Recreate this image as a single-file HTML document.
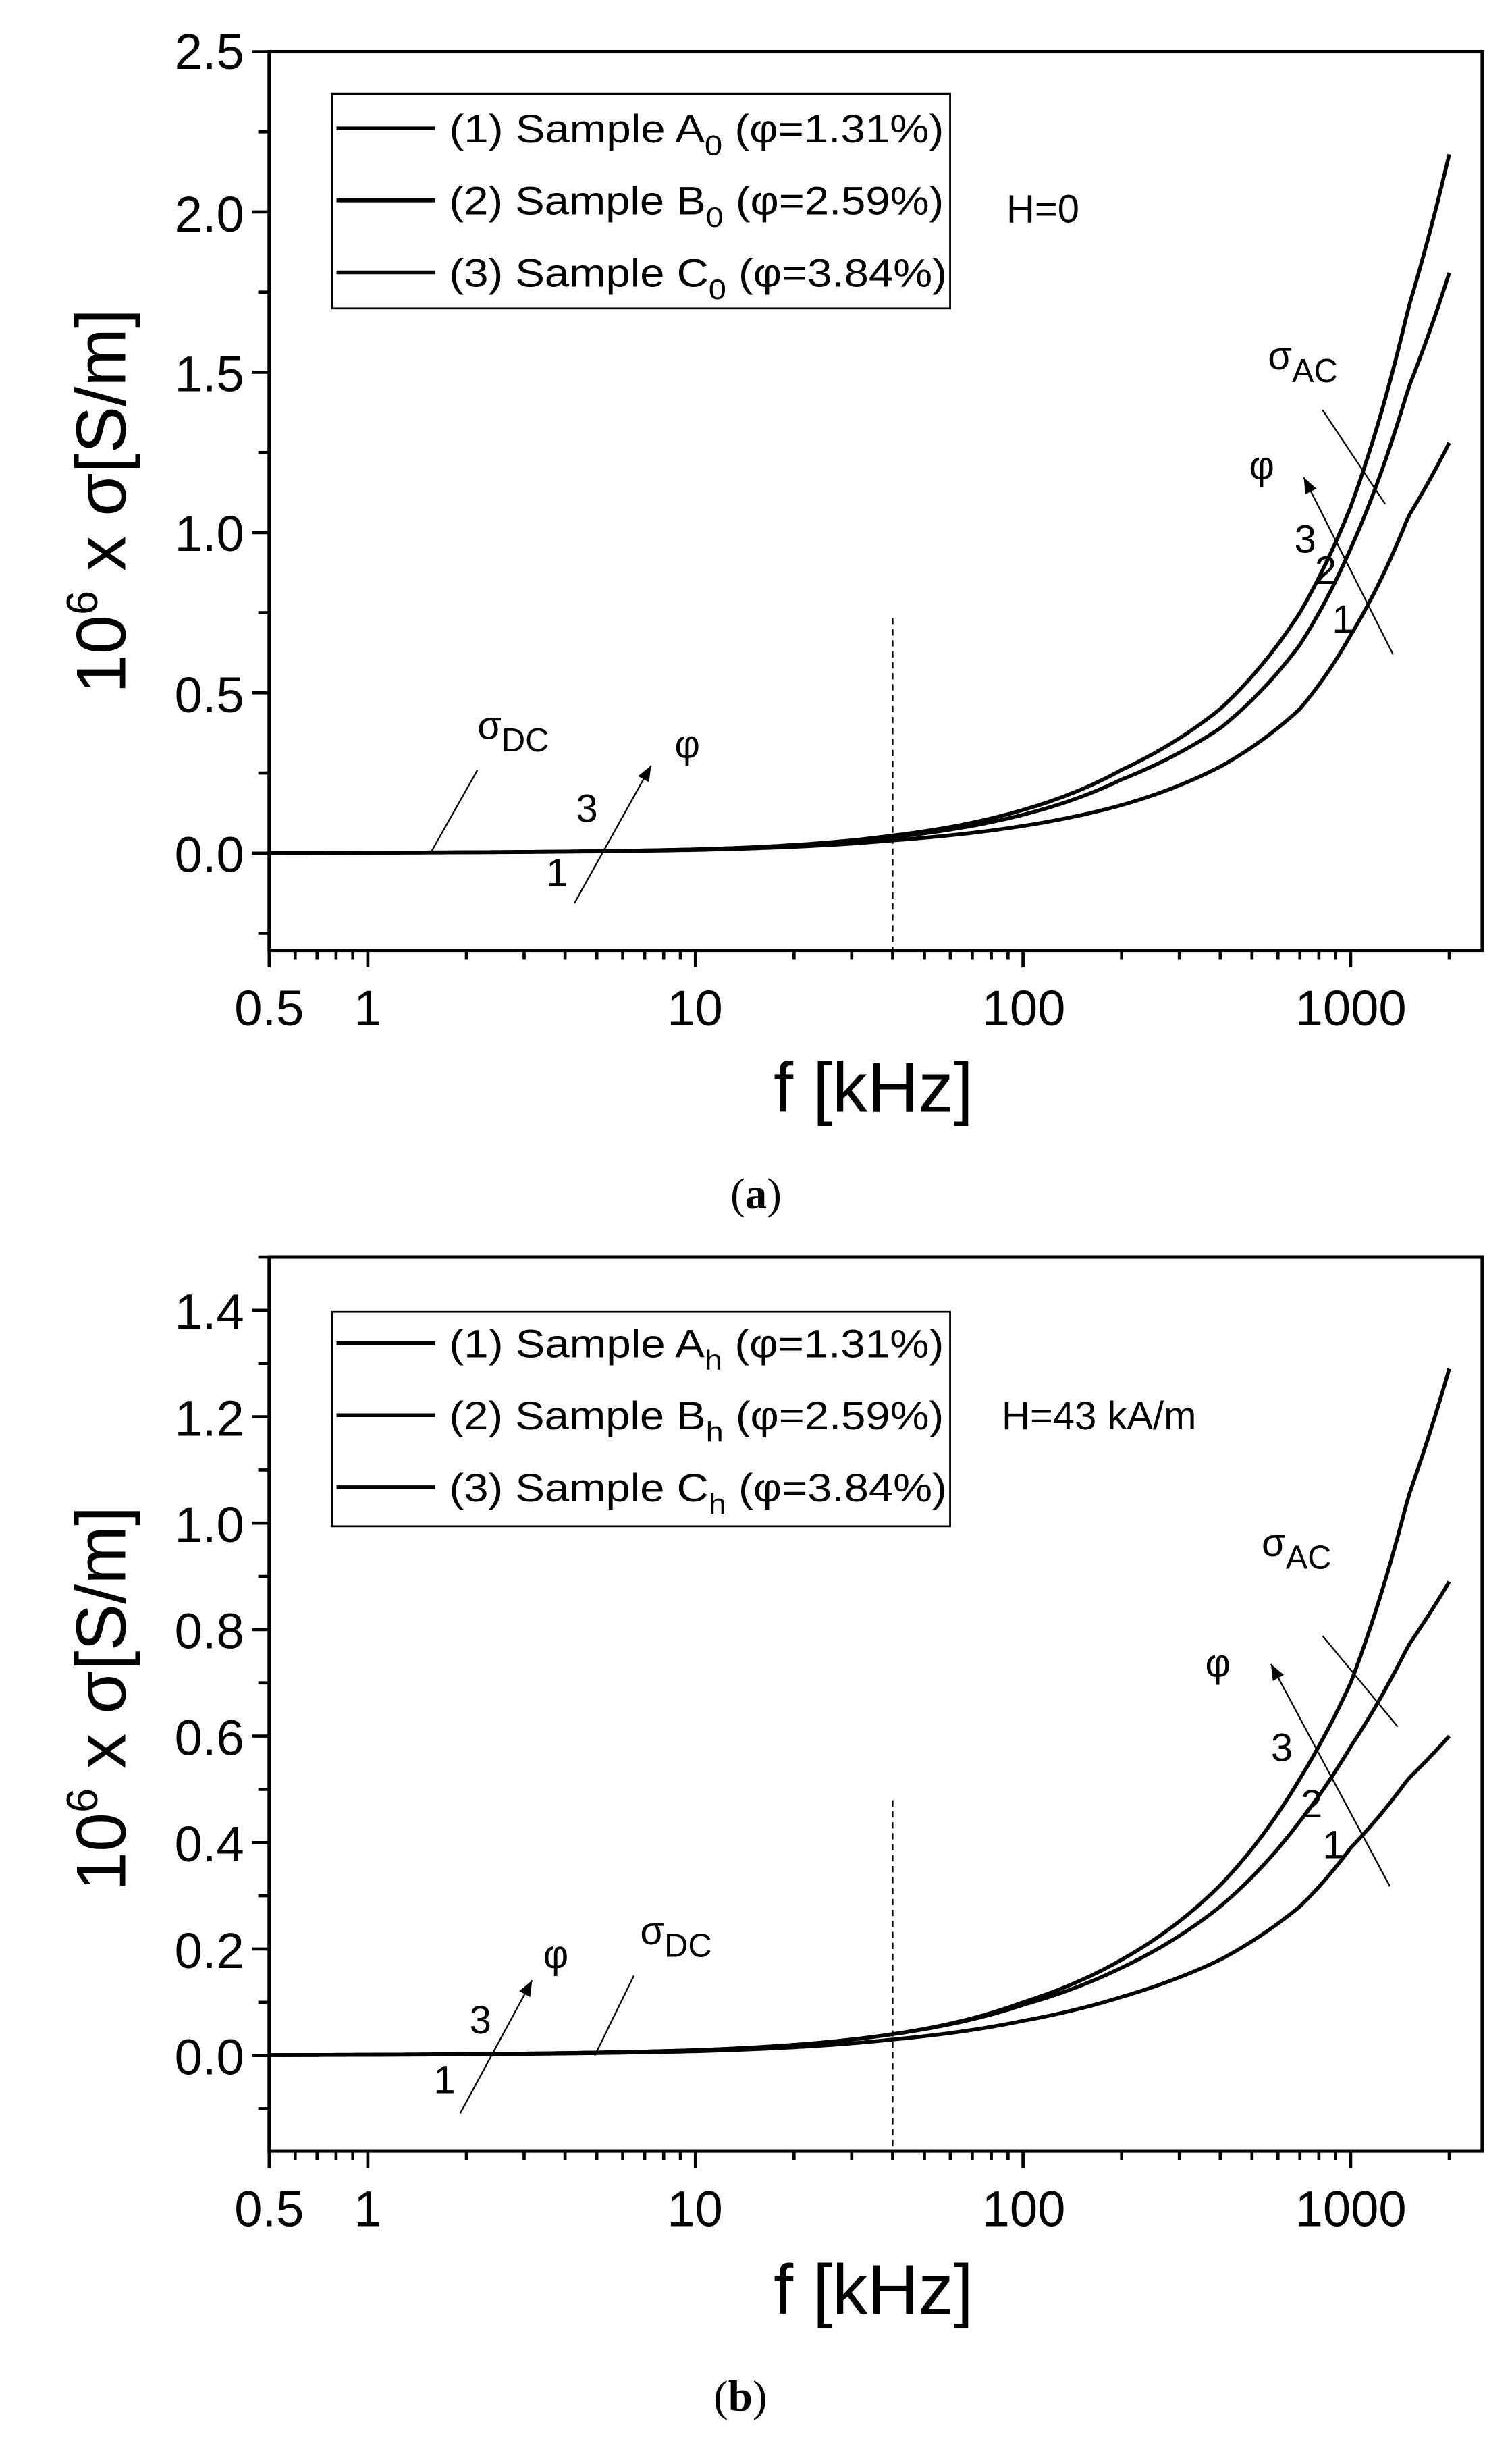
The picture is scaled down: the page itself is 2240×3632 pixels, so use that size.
<!DOCTYPE html>
<html><head><meta charset="utf-8"><style>
html,body{margin:0;padding:0;background:#fff;}
svg{display:block;}
text{font-family:"Liberation Sans",sans-serif;fill:#000;}
</style></head><body>
<svg id="s" width="2240" height="3632" viewBox="0 0 966 1566.3" preserveAspectRatio="none" xmlns="http://www.w3.org/2000/svg">
<rect x="0" y="0" width="966" height="1566.3" fill="#fff"/>
<g id="g"></g>
<!-- Panel a texts -->
<g font-size="32">
<text x="156" y="44" text-anchor="end">2.5</text>
<text x="156" y="148" text-anchor="end">2.0</text>
<text x="156" y="250" text-anchor="end">1.5</text>
<text x="156" y="352" text-anchor="end">1.0</text>
<text x="156" y="455" text-anchor="end">0.5</text>
<text x="156" y="557" text-anchor="end">0.0</text>
<text x="172" y="655" text-anchor="middle">0.5</text>
<text x="235" y="655" text-anchor="middle">1</text>
<text x="444" y="655" text-anchor="middle">10</text>
<text x="654" y="655" text-anchor="middle">100</text>
<text x="863" y="655" text-anchor="middle">1000</text>
</g>
<text x="558" y="710" font-size="45" text-anchor="middle">f [kHz]</text>
<text transform="translate(80,320) rotate(-90)" font-size="45" text-anchor="middle">10<tspan dy="-18" font-size="28">6</tspan><tspan dy="18"> x σ[S/m]</tspan></text>
<text x="483" y="772" font-size="28" text-anchor="middle" style="font-family:'Liberation Serif',serif">(<tspan font-weight="bold">a</tspan>)</text>
<rect x="212" y="60" width="395" height="137" fill="none" stroke="#000" stroke-width="1.2"/>
<g stroke="#000" stroke-width="2.4"><line x1="215" y1="82" x2="278" y2="82"/><line x1="215" y1="128" x2="278" y2="128"/><line x1="215" y1="174" x2="278" y2="174"/></g>
<g font-size="25">
<text x="287" y="91" textLength="316" lengthAdjust="spacingAndGlyphs">(1) Sample A<tspan dy="8" font-size="18">0</tspan><tspan dy="-8"> (φ=1.31%)</tspan></text>
<text x="287" y="137" textLength="316" lengthAdjust="spacingAndGlyphs">(2) Sample B<tspan dy="8" font-size="18">0</tspan><tspan dy="-8"> (φ=2.59%)</tspan></text>
<text x="287" y="183" textLength="318" lengthAdjust="spacingAndGlyphs">(3) Sample C<tspan dy="8" font-size="18">0</tspan><tspan dy="-8"> (φ=3.84%)</tspan></text>
<text x="643" y="142">H=0</text>
<text x="810" y="236">σ<tspan dy="8" font-size="21">AC</tspan></text>
<text x="798" y="306">φ</text>
<text x="827" y="353">3</text>
<text x="840" y="373">2</text>
<text x="851" y="404">1</text>
<text x="305" y="472">σ<tspan dy="8" font-size="21">DC</tspan></text>
<text x="431" y="484">φ</text>
<text x="368" y="525">3</text>
<text x="349" y="566">1</text>
</g>
<!-- Panel b texts -->
<g font-size="32">
<text x="156" y="849" text-anchor="end">1.4</text>
<text x="156" y="917" text-anchor="end">1.2</text>
<text x="156" y="985" text-anchor="end">1.0</text>
<text x="156" y="1053" text-anchor="end">0.8</text>
<text x="156" y="1121" text-anchor="end">0.6</text>
<text x="156" y="1189" text-anchor="end">0.4</text>
<text x="156" y="1257" text-anchor="end">0.2</text>
<text x="156" y="1325" text-anchor="end">0.0</text>
<text x="172" y="1422" text-anchor="middle">0.5</text>
<text x="235" y="1422" text-anchor="middle">1</text>
<text x="444" y="1422" text-anchor="middle">10</text>
<text x="654" y="1422" text-anchor="middle">100</text>
<text x="863" y="1422" text-anchor="middle">1000</text>
</g>
<text x="558" y="1478" font-size="45" text-anchor="middle">f [kHz]</text>
<text transform="translate(80,1085) rotate(-90)" font-size="45" text-anchor="middle">10<tspan dy="-18" font-size="28">6</tspan><tspan dy="18"> x σ[S/m]</tspan></text>
<text x="473" y="1540" font-size="28" text-anchor="middle" style="font-family:'Liberation Serif',serif">(<tspan font-weight="bold">b</tspan>)</text>
<rect x="212" y="838" width="395" height="137" fill="none" stroke="#000" stroke-width="1.2"/>
<g stroke="#000" stroke-width="2.4"><line x1="215" y1="858" x2="278" y2="858"/><line x1="215" y1="904" x2="278" y2="904"/><line x1="215" y1="950" x2="278" y2="950"/></g>
<g font-size="25">
<text x="287" y="867" textLength="316" lengthAdjust="spacingAndGlyphs">(1) Sample A<tspan dy="8" font-size="18">h</tspan><tspan dy="-8"> (φ=1.31%)</tspan></text>
<text x="287" y="913" textLength="316" lengthAdjust="spacingAndGlyphs">(2) Sample B<tspan dy="8" font-size="18">h</tspan><tspan dy="-8"> (φ=2.59%)</tspan></text>
<text x="287" y="959" textLength="318" lengthAdjust="spacingAndGlyphs">(3) Sample C<tspan dy="8" font-size="18">h</tspan><tspan dy="-8"> (φ=3.84%)</tspan></text>
<text x="640" y="913">H=43 kA/m</text>
<text x="806" y="994">σ<tspan dy="8" font-size="21">AC</tspan></text>
<text x="770" y="1071">φ</text>
<text x="812" y="1125">3</text>
<text x="831" y="1161">2</text>
<text x="845" y="1187">1</text>
<text x="409" y="1242">σ<tspan dy="8" font-size="21">DC</tspan></text>
<text x="347" y="1257">φ</text>
<text x="300" y="1299">3</text>
<text x="277" y="1337">1</text>
</g>
</svg>
<script>
var g=document.getElementById('g');var NS='http://www.w3.org/2000/svg';
function el(t,a){var e=document.createElementNS(NS,t);for(var k in a)e.setAttribute(k,a[k]);g.appendChild(e);return e;}
function X(f){return 235+209.3*Math.log10(f);}
function panel(y0,sc,top,bot,ymin,ymax,maj,minr,curves,dashTop){
 var L=172,R=947;
 el('rect',{x:L,y:top,width:R-L,height:bot-top,fill:'none',stroke:'#000','stroke-width':2.2});
 for(var v=ymin;v<=ymax+1e-9;v+=minr){var y=y0-v*sc;var isM=Math.abs(v/maj-Math.round(v/maj))<1e-6;
  if(y>bot+0.5||y<top-0.5)continue;
  el('line',{x1:L,y1:y,x2:L-(isM?11:7),y2:y,stroke:'#000','stroke-width':2});}
 var dec=[0.1,1,10,100,1000];
 for(var d=0;d<dec.length;d++)for(var m=1;m<10;m++){var f=dec[d]*m;if(f<0.5||f>2600)continue;var x=X(f);
  var isM=(m==1)||f==0.5;
  el('line',{x1:x,y1:bot,x2:x,y2:bot+(isM?11:6),stroke:'#000','stroke-width':2});}
 el('line',{x1:X(40),y1:dashTop,x2:X(40),y2:bot,stroke:'#000','stroke-width':1,'stroke-dasharray':'4,3'});
 curves.forEach(function(c){var pts=c;var d='';
  for(var i=0;i<=300;i++){var lf=Math.log10(0.5)+i/300*(Math.log10(2000)-Math.log10(0.5));
   var v;var k=0;while(k<pts.length-2&&Math.log10(pts[k+1][0])<lf)k++;
   var a=pts[k],b=pts[k+1];var t=(lf-Math.log10(a[0]))/(Math.log10(b[0])-Math.log10(a[0]));
   v=Math.exp(Math.log(a[1])+t*(Math.log(b[1])-Math.log(a[1])));
   d+=(i?'L':'M')+(235+209.3*lf).toFixed(2)+','+(y0-v*sc).toFixed(2);}
  el('path',{d:d,fill:'none',stroke:'#000','stroke-width':2.4});});
}
panel(545,204.8,33,607,-0.25,2.5,0.5,0.25,[
 [[0.5,0.0008],[10,0.012],[40,0.055],[100,0.135],[200,0.26],[400,0.45],[700,0.75],[1000,1.08],[1500,1.7],[2000,2.18]],
 [[0.5,0.0008],[10,0.012],[40,0.05],[100,0.12],[200,0.23],[400,0.39],[700,0.65],[1000,0.95],[1500,1.45],[2000,1.81]],
 [[0.5,0.0007],[10,0.01],[40,0.04],[100,0.085],[200,0.15],[400,0.27],[700,0.45],[1000,0.68],[1500,1.05],[2000,1.28]]
],395);
panel(1313,340,803,1374,-0.1,1.5,0.2,0.1,[
 [[0.5,0.0008],[10,0.01],[40,0.04],[100,0.1],[200,0.18],[400,0.32],[700,0.52],[1000,0.7],[1500,1.05],[2000,1.29]],
 [[0.5,0.0008],[10,0.01],[40,0.04],[100,0.095],[200,0.165],[400,0.28],[700,0.44],[1000,0.58],[1500,0.77],[2000,0.89]],
 [[0.5,0.0007],[10,0.008],[40,0.03],[100,0.065],[200,0.11],[400,0.18],[700,0.28],[1000,0.39],[1500,0.52],[2000,0.60]]
],1150);
function ln(a,b,c,d){el('line',{x1:a,y1:b,x2:c,y2:d,stroke:'#000','stroke-width':1});}
function arrow(a,b,c,d){ln(a,b,c,d);var ang=Math.atan2(d-b,c-a),s=10,w=4;
 var p=[c,d,c-s*Math.cos(ang)+w*Math.sin(ang),d-s*Math.sin(ang)-w*Math.cos(ang),c-s*Math.cos(ang)-w*Math.sin(ang),d-s*Math.sin(ang)+w*Math.cos(ang)];
 el('polygon',{points:p.join(','),fill:'#000'});}
ln(845,262,885,322); arrow(890,418,833,305);
ln(305,492,275,545); arrow(367,577,416,489);
ln(845,1045,893,1103); arrow(888,1205,812,1063);
ln(405,1262,380,1313); arrow(294,1350,340,1265);
</script>
</body></html>
